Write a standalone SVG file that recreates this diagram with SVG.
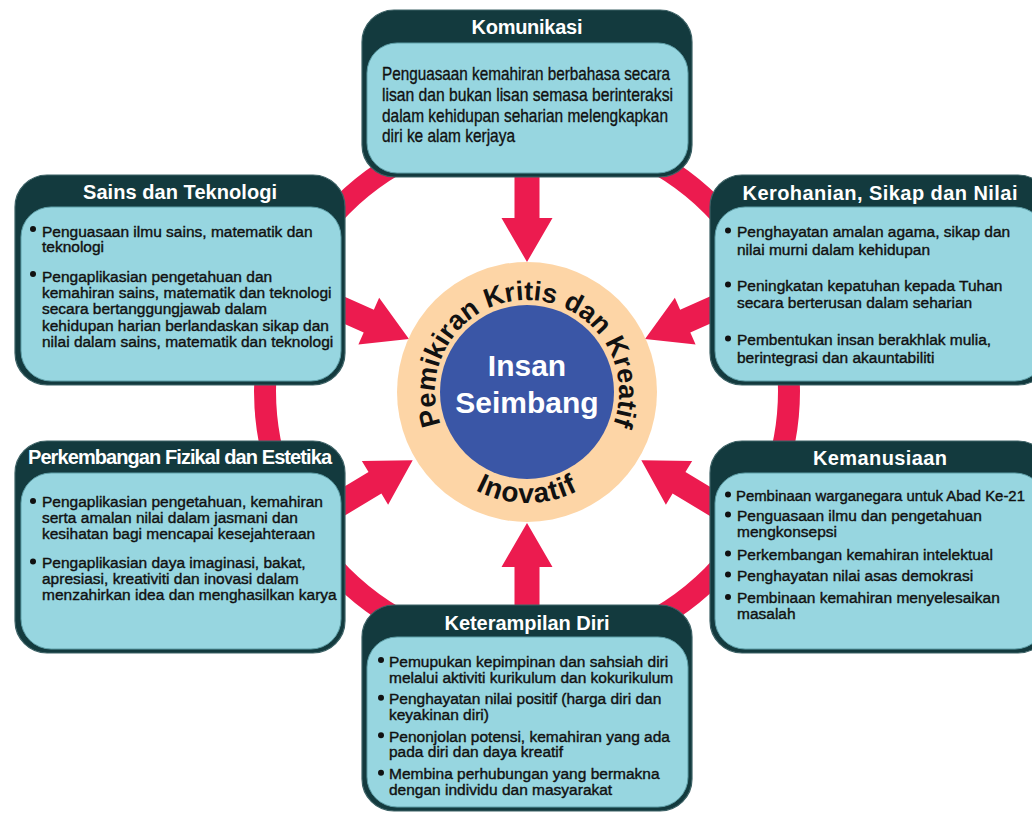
<svg xmlns="http://www.w3.org/2000/svg" width="1032" height="813" viewBox="0 0 1032 813">
<style>
.outer{fill:#133a3e;stroke:#3d6266;stroke-width:1.2}
.inner{fill:#97d6e0;stroke:#5e9fa8;stroke-width:1}
.title{font-family:"Liberation Sans",Arial,sans-serif;font-weight:bold;font-size:20px;fill:#ffffff;text-anchor:middle}
.body{font-family:"Liberation Sans",Arial,sans-serif;font-size:15.5px;fill:#111111;stroke:#111111;stroke-width:0.4}
.narrow{font-family:"Liberation Sans Narrow","Liberation Sans",Arial,sans-serif;font-size:18.5px;fill:#111111;stroke:#111111;stroke-width:0.35}
.bul{fill:#111111}
.arrow{fill:#ec1b4f}
.ring{fill:none;stroke:#ec1b4f;stroke-width:22}
.arc{font-family:"Liberation Sans",Arial,sans-serif;font-weight:bold;fill:#111111}
.center{font-family:"Liberation Sans",Arial,sans-serif;font-weight:bold;font-size:30px;fill:#ffffff;text-anchor:middle}
</style>
<defs>
<path id="arcTop" d="M 447.33 438 A 92 92 0 1 1 606.67 438"/>
<path id="arcBot" d="M 430.9 447.5 A 111 111 0 0 0 623.1 447.5"/>
</defs>
<rect width="1032" height="813" fill="#ffffff"/>

<g id="connectors">
<circle class="ring" cx="527" cy="391" r="262"/>
<polygon class="arrow" transform="translate(527,170) rotate(90)" points="0,-12.5 48,-12.5 48,-25.5 92,0 48,25.5 48,12.5 0,12.5"/>
<polygon class="arrow" transform="translate(527,612) rotate(-90)" points="0,-12.5 45,-12.5 45,-25.5 89,0 45,25.5 45,12.5 0,12.5"/>
<polygon class="arrow" transform="translate(336.8,306.9) rotate(24)" points="0,-12.5 35,-12.5 35,-25.5 79,0 35,25.5 35,12.5 0,12.5"/>
<polygon class="arrow" transform="translate(717.2,306.9) rotate(156)" points="0,-12.5 35,-12.5 35,-25.5 79,0 35,25.5 35,12.5 0,12.5"/>
<polygon class="arrow" transform="translate(336.4,506) rotate(-31)" points="0,-12.5 45,-12.5 45,-25.5 89,0 45,25.5 45,12.5 0,12.5"/>
<polygon class="arrow" transform="translate(717.6,506) rotate(-149)" points="0,-12.5 45,-12.5 45,-25.5 89,0 45,25.5 45,12.5 0,12.5"/>
</g>

<g id="center">
<circle cx="527" cy="392" r="130" fill="#fdd5a6"/>
<circle cx="527" cy="392" r="87" fill="#3a56a6"/>
<text class="arc" font-size="27"><textPath href="#arcTop" startOffset="50%" text-anchor="middle">Pemikiran Kritis dan Kreatif</textPath></text>
<text class="arc" font-size="28" letter-spacing="1"><textPath href="#arcBot" startOffset="50%" text-anchor="middle">Inovatif</textPath></text>
<text class="center" x="527" y="376">Insan</text>
<text class="center" x="527" y="413">Seimbang</text>
</g>

<g id="komunikasi">
<rect class="outer" x="362" y="10" width="330" height="167" rx="32"/>
<rect class="inner" x="367" y="43" width="321" height="130" rx="30"/>
<text class="title" x="527" y="34" textLength="111">Komunikasi</text>
<text class="narrow" x="382" y="80" textLength="288" lengthAdjust="spacingAndGlyphs">Penguasaan kemahiran berbahasa secara</text>
<text class="narrow" x="382" y="100.7" textLength="291" lengthAdjust="spacingAndGlyphs">lisan dan bukan lisan semasa berinteraksi</text>
<text class="narrow" x="382" y="121.5" textLength="286" lengthAdjust="spacingAndGlyphs">dalam kehidupan seharian melengkapkan</text>
<text class="narrow" x="382" y="142" textLength="133" lengthAdjust="spacingAndGlyphs">diri ke alam kerjaya</text>
</g>

<g id="sains">
<rect class="outer" x="15" y="175" width="330" height="210" rx="32"/>
<rect class="inner" x="21" y="207" width="320" height="174" rx="30"/>
<text class="title" x="180" y="199" textLength="194">Sains dan Teknologi</text>
<circle class="bul" cx="33" cy="229" r="3"/>
<circle class="bul" cx="33" cy="274" r="3"/>
<g class="body" font-size="15.6">
<text x="42" y="236.5">Penguasaan ilmu sains, matematik dan</text>
<text x="42" y="252">teknologi</text>
<text x="42" y="281.5">Pengaplikasian pengetahuan dan</text>
<text x="42" y="298">kemahiran sains, matematik dan teknologi</text>
<text x="42" y="314">secara bertanggungjawab dalam</text>
<text x="42" y="330.5">kehidupan harian berlandaskan sikap dan</text>
<text x="42" y="347">nilai dalam sains, matematik dan teknologi</text>
</g>
</g>

<g id="kerohanian">
<rect class="outer" x="710" y="175" width="340" height="210" rx="32"/>
<rect class="inner" x="715" y="207" width="330" height="174" rx="30"/>
<text class="title" x="880" y="200" textLength="275">Kerohanian, Sikap dan Nilai</text>
<circle class="bul" cx="728" cy="230.5" r="3"/>
<circle class="bul" cx="728" cy="284.5" r="3"/>
<circle class="bul" cx="728" cy="338.5" r="3"/>
<g class="body" font-size="15.2">
<text x="737" y="236.7">Penghayatan amalan agama, sikap dan</text>
<text x="737" y="255">nilai murni dalam kehidupan</text>
<text x="737" y="290.7">Peningkatan kepatuhan kepada Tuhan</text>
<text x="737" y="308.3">secara berterusan dalam seharian</text>
<text x="737" y="345">Pembentukan insan berakhlak mulia,</text>
<text x="737" y="363.3">berintegrasi dan akauntabiliti</text>
</g>
</g>

<g id="perkembangan">
<rect class="outer" x="15" y="441" width="330" height="212" rx="32"/>
<rect class="inner" x="21" y="473" width="320" height="176" rx="30"/>
<text class="title" x="180" y="464" textLength="304" font-size="19">Perkembangan Fizikal dan Estetika</text>
<circle class="bul" cx="33" cy="501" r="3"/>
<circle class="bul" cx="33" cy="561.5" r="3"/>
<g class="body" font-size="15.5">
<text x="42" y="507.3">Pengaplikasian pengetahuan, kemahiran</text>
<text x="42" y="523.3">serta amalan nilai dalam jasmani dan</text>
<text x="42" y="539.3">kesihatan bagi mencapai kesejahteraan</text>
<text x="42" y="567.7">Pengaplikasian daya imaginasi, bakat,</text>
<text x="42" y="584">apresiasi, kreativiti dan inovasi dalam</text>
<text x="42" y="600">menzahirkan idea dan menghasilkan karya</text>
</g>
</g>

<g id="kemanusiaan">
<rect class="outer" x="710" y="441" width="340" height="212" rx="32"/>
<rect class="inner" x="715" y="473" width="330" height="176" rx="30"/>
<text class="title" x="880" y="465" textLength="134">Kemanusiaan</text>
<circle class="bul" cx="728" cy="494.5" r="3"/>
<circle class="bul" cx="728" cy="514.5" r="3"/>
<circle class="bul" cx="728" cy="553.5" r="3"/>
<circle class="bul" cx="728" cy="574.5" r="3"/>
<circle class="bul" cx="728" cy="597" r="3"/>
<g class="body" font-size="15.5">
<text x="736" y="501" font-size="14.9">Pembinaan warganegara untuk Abad Ke-21</text>
<text x="737" y="521">Penguasaan ilmu dan pengetahuan</text>
<text x="737" y="537.3">mengkonsepsi</text>
<text x="737" y="560">Perkembangan kemahiran intelektual</text>
<text x="737" y="581">Penghayatan nilai asas demokrasi</text>
<text x="737" y="603.3">Pembinaan kemahiran menyelesaikan</text>
<text x="737" y="619.3">masalah</text>
</g>
</g>

<g id="keterampilan">
<rect class="outer" x="362" y="605" width="330" height="206" rx="32"/>
<rect class="inner" x="367" y="637" width="321" height="170" rx="30"/>
<text class="title" x="527" y="630" textLength="165">Keterampilan Diri</text>
<circle class="bul" cx="381" cy="660" r="3"/>
<circle class="bul" cx="381" cy="697.8" r="3"/>
<circle class="bul" cx="381" cy="735.2" r="3"/>
<circle class="bul" cx="381" cy="772.8" r="3"/>
<g class="body" font-size="16">
<text x="389" y="666.7">Pemupukan kepimpinan dan sahsiah diri</text>
<text x="389" y="682.7">melalui aktiviti kurikulum dan kokurikulum</text>
<text x="389" y="704.3">Penghayatan nilai positif (harga diri dan</text>
<text x="389" y="720">keyakinan diri)</text>
<text x="389" y="741.7">Penonjolan potensi, kemahiran yang ada</text>
<text x="389" y="757.3">pada diri dan daya kreatif</text>
<text x="389" y="779.3">Membina perhubungan yang bermakna</text>
<text x="389" y="795">dengan individu dan masyarakat</text>
</g>
</g>
</svg>
